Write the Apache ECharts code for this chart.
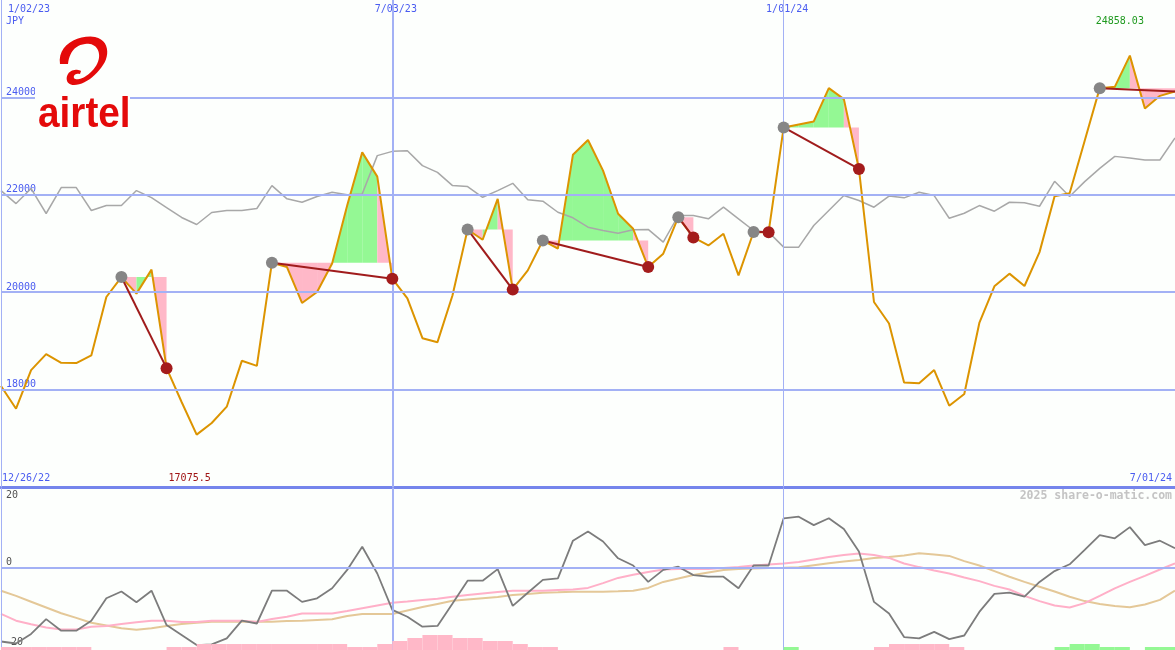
<!DOCTYPE html>
<html><head><meta charset="utf-8">
<script src="https://cdn.jsdelivr.net/npm/echarts@6/dist/echarts.min.js"></script>
<style>html,body{margin:0;padding:0;background:#fdfffd;overflow:hidden}#c{width:1175px;height:650px}</style>
</head><body><div id="c"></div>
<script>
// ---- data (weekly points, index 0 = week of 1/02/23) ----
const closePrices = [18073,17608,18400,18728,18550,18544,18701,19901,20311,19971,
  20463,18440,17745,17075.5,17315,17649,18591,18488,20606,20516,
  19779,20004,20590,21779,22871,22373,20278,19875,19056,18974,
  19936,21288,21077,21917,20053,20448,21063,20893,22824,23125,
  22496,21610,21302,20516,20790,21540,21124,20960,21200,20346,
  21237,21233,23383,23445,23506,24190,23965,22531,19799,19357,
  18148,18128,18400,17669,17909,19369,20121,20381,20127,20823,
  21970,22031,23111,24190,24217,24858.03,23772,24032,24120];
const indexLine = [22087,21820,22128,21616,22149,22149,21677,21779,21779,22087,
  21943,21739,21534,21390,21636,21677,21677,21718,22189,21917,
  21847,21964,22052,21999,22019,22804,22892,22906,22599,22461,
  22189,22169,21949,22087,22236,21896,21868,21642,21528,21335,
  21267,21212,21282,21289,21028,21575,21575,21507,21745,21507,
  21267,21233,20925,20925,21370,21677,21984,21882,21745,21974,
  21937,22052,21984,21519,21622,21779,21663,21847,21835,21765,
  22277,21964,22271,22543,22789,22756,22715,22715,23166];
const oscLine = [-18.5,-19.0,-16.6,-12.9,-15.8,-15.8,-13.3,-7.7,-6.0,-8.7,
  -5.8,-14.4,-16.9,-19.4,-19.2,-17.7,-13.3,-14.0,-5.8,-5.8,
  -8.6,-7.7,-5.2,-0.6,5.2,-1.5,-10.6,-12.3,-14.8,-14.6,
  -9.0,-3.3,-3.3,-0.4,-9.6,-6.3,-3.1,-2.7,6.7,9.0,
  6.5,2.3,0.5,-3.6,-0.6,0.2,-1.9,-2.3,-2.3,-5.2,
  0.5,0.5,12.3,12.7,10.6,12.3,9.6,4.0,-8.6,-11.5,
  -17.4,-17.7,-16.1,-17.9,-17.0,-11.1,-6.6,-6.3,-7.3,-3.6,
  -0.9,0.8,4.4,8.1,7.3,10.1,5.6,6.7,4.8];
const fastAvg = [-11.6,-13.3,-14.2,-15.0,-15.5,-15.5,-14.8,-14.6,-14.1,-13.7,
  -13.3,-13.3,-13.6,-13.6,-13.3,-13.3,-13.3,-13.6,-12.9,-12.3,
  -11.5,-11.5,-11.5,-10.9,-10.2,-9.5,-8.8,-8.5,-8.1,-7.8,
  -7.3,-6.9,-6.5,-6.1,-5.8,-5.8,-5.8,-5.6,-5.5,-5.1,
  -3.9,-2.6,-1.8,-1.1,-0.5,-0.4,-0.4,-0.4,-0.1,0.1,
  0.5,0.75,1.0,1.4,2.0,2.6,3.1,3.5,3.1,2.4,
  1.0,0.1,-0.75,-1.5,-2.5,-3.4,-4.6,-5.5,-7.1,-8.4,
  -9.5,-10.0,-8.9,-7.1,-5.2,-3.6,-2.1,-0.5,1.05];
const slowAvg = [-5.8,-7.1,-8.55,-10.0,-11.45,-12.6,-13.8,-14.5,-15.2,-15.55,
  -15.2,-14.6,-14.1,-13.8,-13.55,-13.55,-13.55,-13.55,-13.55,-13.4,
  -13.3,-13.1,-12.95,-12.1,-11.6,-11.6,-11.6,-10.75,-9.9,-9.1,
  -8.3,-8.0,-7.7,-7.4,-6.9,-6.6,-6.3,-6.2,-6.05,-6.05,
  -6.05,-5.95,-5.8,-5.1,-3.6,-2.75,-1.9,-1.25,-0.6,-0.4,
  -0.25,-0.1,-0.05,0.05,0.55,1.05,1.5,1.9,2.4,2.6,
  3.0,3.55,3.25,2.9,1.6,0.5,-0.9,-2.3,-3.6,-4.8,
  -6.0,-7.3,-8.4,-9.1,-9.6,-9.95,-9.25,-8.1,-5.8];
// signed weekly bars (negative = pink, positive = green), one per interval
const barHist = [-1,-1,-1,-1,-1,-1,0,0,0,0,0,-1,-1,-2,-2,-2,-2,-2,-2,-2,-2,-2,-2,-1,-1,
  -2,-3,-4,-5,-5,-4,-4,-3,-3,-2,-1,-1,0,0,0,0,0,0,0,0,0,0,0,-1,0,0,0,1,0,0,0,0,0,
  -1,-2,-2,-2,-2,-1,0,0,0,0,0,0,1,2,2,1,1,0,1,1];
const tradeEntries = [8,18,31,36,45,50,52,73];
const tradeExits   = [11,26,34,43,46,51,57,null];
const priceTicks = [18000,20000,22000,24000];
const dateTicks = ['1/02/23','7/03/23','1/01/24'];
const dateTickIndex = [0,26,52];
const oscTicks = [20,0,-20];
const periodStart = '12/26/22', periodEnd = '7/01/24';
const currency = 'JPY';

// ---- colours ----
const BLUE_TXT='#4a5cf0', GRID='#a3b1f5', THICK='#7585ec', ORANGE='#dc9400',
  GREY='#a8a8a8', OSC='#7c7c7c', FAST='#ffb0c8', SLOW='#e4c898',
  FILL_G='#94f894', FILL_P='#ffb8c8', DOT_G='#868686', DOT_R='#a41c1c', TRADE='#a01c1c';
const MONO='"DejaVu Sans Mono", monospace';

const xy = a => a.map((v,i)=>[i,v]);
const last = closePrices.length-1;

const segs=[], entryPts=[], exitPts=[], tradeLines=[];
tradeEntries.forEach((e,t)=>{
  const x = tradeExits[t]===null ? last : tradeExits[t];
  const lvl = closePrices[e];
  for(let k=e;k<x;k++) segs.push([k,lvl,closePrices[k],closePrices[k+1]]);
  entryPts.push([e,lvl]);
  if(tradeExits[t]!==null) exitPts.push([x,closePrices[x]]);
  tradeLines.push({coords:[[e,lvl],[x,closePrices[x]]]});
});

const chart = echarts.init(document.getElementById('c'));
const hiddenX = g => ({gridIndex:g,type:'value',min:0,max:78,show:false});
const ml = (data) => ({symbol:['none','none'],silent:true,label:{show:false},animation:false,
  lineStyle:{color:GRID,width:2,type:'solid'},data});

const option = {
  animation:false,
  backgroundColor:'#fdfffd',
  grid:[{left:1,right:0,top:0,height:487},
        {left:1,right:0,top:487.5,height:162.5},
        {left:1,right:0,top:620,height:30}],
  xAxis:[{gridIndex:0,type:'value',min:0,max:78,
          axisLine:{show:true,onZero:false,lineStyle:{color:THICK,width:3}},
          axisTick:{show:false},axisLabel:{show:false},splitLine:{show:false}},
         hiddenX(1),hiddenX(2)],
  yAxis:[{gridIndex:0,type:'value',min:16000,max:26000,interval:2000,
          axisLine:{show:false},axisTick:{show:false},splitLine:{show:false},
          axisLabel:{inside:true,margin:5,verticalAlign:'bottom',color:BLUE_TXT,fontSize:10,
                     fontFamily:MONO,showMinLabel:false,showMaxLabel:false,
                     formatter:v=>String(v)}},
         {gridIndex:1,type:'value',min:-20.625,max:20,show:false},
         {gridIndex:2,type:'value',min:0,max:10,show:false}],
  series:[
    {type:'custom',xAxisIndex:0,yAxisIndex:0,z:1,silent:true,data:segs,
     encode:{x:0,y:1},
     renderItem:(p,api)=>{
       const k=api.value(0),lvl=api.value(1),a=api.value(2),b=api.value(3);
       return {type:'polygon',shape:{points:[api.coord([k,lvl]),api.coord([k,a]),
               api.coord([k+1,b]),api.coord([k+1,lvl])]},
               style:{fill:b>=lvl?FILL_G:FILL_P}};
     }},
    {type:'line',xAxisIndex:0,yAxisIndex:0,z:2,data:xy(indexLine),symbol:'none',
     lineStyle:{opacity:0},silent:true,
     markLine:ml([...priceTicks.map(v=>({yAxis:v})),
        ...dateTickIndex.map((v,i)=>({xAxis:v,lineStyle:{width:i===1?2:1}}))])},
    {type:'line',xAxisIndex:0,yAxisIndex:0,z:3,data:xy(indexLine),symbol:'none',
     lineStyle:{color:GREY,width:1.5},silent:true},
    {type:'line',xAxisIndex:0,yAxisIndex:0,z:4,data:xy(closePrices),symbol:'none',
     lineStyle:{color:ORANGE,width:2},silent:true},
    {type:'lines',coordinateSystem:'cartesian2d',xAxisIndex:0,yAxisIndex:0,z:5,
     data:tradeLines,lineStyle:{color:TRADE,width:2,opacity:1},silent:true},
    {type:'scatter',xAxisIndex:0,yAxisIndex:0,z:6,data:entryPts,symbolSize:12,
     itemStyle:{color:DOT_G,opacity:1},silent:true},
    {type:'scatter',xAxisIndex:0,yAxisIndex:0,z:6,data:exitPts,symbolSize:12,
     itemStyle:{color:DOT_R,opacity:1},silent:true},
    // lower panel
    {type:'line',xAxisIndex:1,yAxisIndex:1,z:2,data:xy(oscLine),symbol:'none',
     lineStyle:{opacity:0},silent:true,
     markLine:ml([{yAxis:0},...dateTickIndex.map((v,i)=>({xAxis:v,lineStyle:{width:i===1?2:1}}))])},
    {type:'line',xAxisIndex:1,yAxisIndex:1,z:3,data:xy(slowAvg),symbol:'none',
     lineStyle:{color:SLOW,width:2},silent:true},
    {type:'line',xAxisIndex:1,yAxisIndex:1,z:3,data:xy(fastAvg),symbol:'none',
     lineStyle:{color:FAST,width:2},silent:true},
    {type:'line',xAxisIndex:1,yAxisIndex:1,z:4,data:xy(oscLine),symbol:'none',
     lineStyle:{color:OSC,width:1.8},silent:true},
    {type:'bar',xAxisIndex:2,yAxisIndex:2,z:5,barWidth:15.05,silent:true,
     data:barHist.map((v,k)=>v===0?null:{value:[k+0.5,Math.abs(v)],
       itemStyle:{color:v<0?FILL_P:FILL_G}})}
  ]
};
chart.setOption(option);

// ---- text labels positioned through the chart's own scales ----
const P = (g,v)=>chart.convertToPixel({gridIndex:g},v);
const txt = (text,x,y,align,fill,font)=>({type:'text',x,y,silent:true,
  style:{text,fill,font:font||('10px '+MONO),align,verticalAlign:'middle'}});
const g=[];
dateTickIndex.forEach((v,i)=>{
  const x=P(0,[v,26000])[0];
  g.push(i===0?txt(dateTicks[i],x+7,9,'left',BLUE_TXT):txt(dateTicks[i],x+3.5,9,'center',BLUE_TXT));
});
g.push(txt(currency,6,21,'left',BLUE_TXT));
const maxV=Math.max(...closePrices), minV=Math.min(...closePrices);
const maxI=closePrices.indexOf(maxV), minI=closePrices.indexOf(minV);
g.push(txt(String(maxV),P(0,[maxI+1,maxV])[0]-1,21,'right','#1f9a1f'));
g.push(txt(String(minV),P(0,[minI+1,minV])[0]-1,478.5,'right','#a01414'));
g.push(txt(periodStart,2,478.5,'left',BLUE_TXT));
g.push(txt(periodEnd,1172,478.5,'right',BLUE_TXT));
g.push(txt('2025 share-o-matic.com',1172,496,'right','#c4c4c4','bold 11.5px '+MONO));
oscTicks.forEach(v=>{
  const y=P(1,[0,v])[1];
  g.push(txt(String(v),v<0?5:6,v===20?y+8:y-5.5,'left','#505050'));
});
// logo: swoosh outline sampled from cubic curves into a polygon
function sampleCubics(start, cubics){
  const pts=[start]; let p0=start;
  cubics.forEach(c=>{
    if(c.length===1){pts.push(c[0]);p0=c[0];return;}
    const [p1,p2,p3]=c;
    for(let s=1;s<=12;s++){const t=s/12,u=1-t;
      pts.push([u*u*u*p0[0]+3*u*u*t*p1[0]+3*u*t*t*p2[0]+t*t*t*p3[0],
                u*u*u*p0[1]+3*u*u*t*p1[1]+3*u*t*t*p2[1]+t*t*t*p3[1]]);}
    p0=p3;
  });
  return pts;
}
const swoosh = sampleCubics([60,64],[
  [[57,46],[77,34],[95,37]],[[109,40],[110,55],[103,65]],[[96,76],[84,85],[74,85]],
  [[67,85],[65,79],[68,74]],[[71,69],[78,69],[81,71]],[[80,74]],
  [[76,73],[73,75],[74,78]],[[75,80],[80,80],[86,76]],[[95,70],[100,61],[99,54]],
  [[98,46],[92,43],[85,44]],[[75,45],[69,53],[68,64]]]);
g.push({type:'rect',z:10,silent:true,shape:{x:35,y:30,width:95,height:105},style:{fill:'#fdfffd'}});
g.push({type:'polygon',z:11,silent:true,shape:{points:swoosh},style:{fill:'#e40a0a'}});
g.push({type:'text',z:11,silent:true,x:38,y:115,scaleX:1.02,scaleY:1.14,
  style:{text:'airtel',fill:'#e40a0a',font:'bold 38px "Liberation Sans"',align:'left',verticalAlign:'middle'}});
chart.setOption({graphic:g});
</script></body></html>
